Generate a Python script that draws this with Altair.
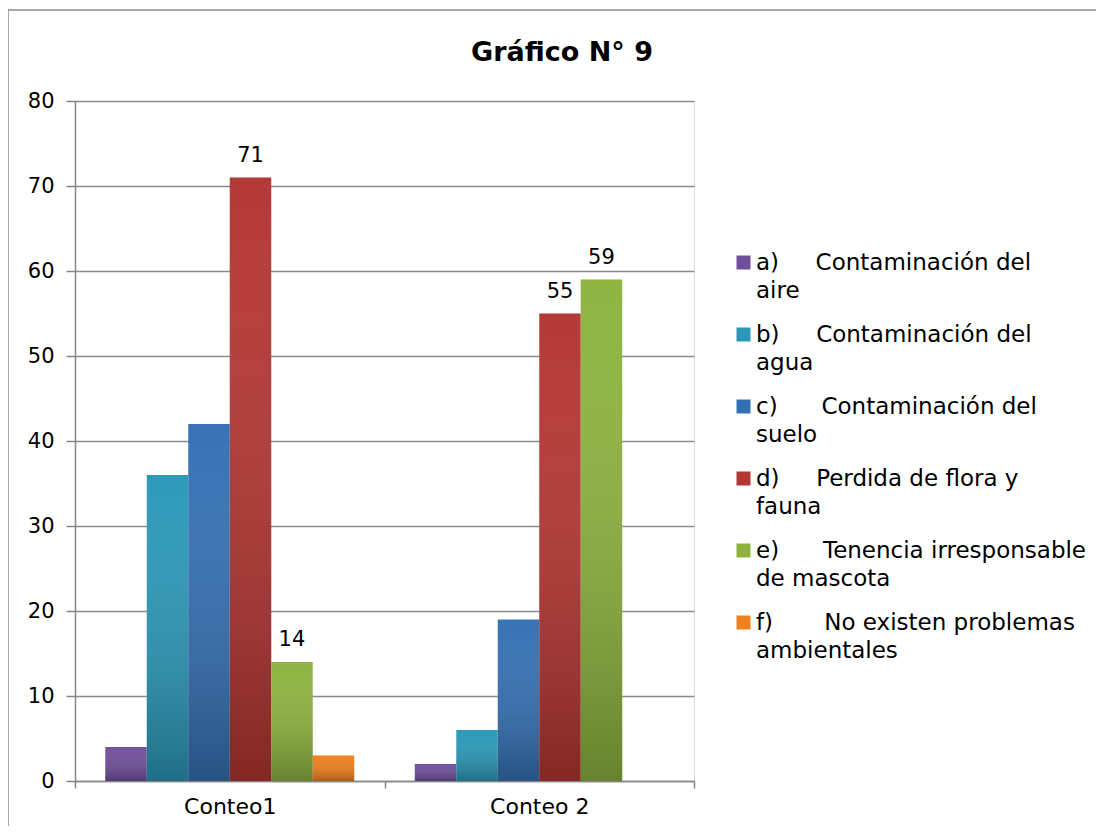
import altair as alt
import pandas as pd

NB = "\u00a0"
conteos = ["Conteo1", "Conteo 2"]
codigos = ["a", "b", "c", "d", "e", "f"]
categorias = [
    "a)" + NB * 5 + "Contaminación del|aire",
    "b)" + NB * 5 + "Contaminación del|agua",
    "c)" + NB * 6 + "Contaminación del|suelo",
    "d)" + NB * 5 + "Perdida de flora y|fauna",
    "e)" + NB * 6 + "Tenencia irresponsable|de mascota",
    "f)" + NB * 7 + "No existen problemas|ambientales",
]
conteo1 = [4, 36, 42, 71, 14, 3]
conteo2 = [2, 6, 19, 55, 59, 0]
colores = ["#6f4e9c", "#2a98b8", "#3470b4", "#b43532", "#8db33e", "#ee801e"]
con_etiqueta = ["d", "e"]
titulo = "Gráfico N° 9"

rows = []
for conteo, vals in zip(conteos, [conteo1, conteo2]):
    for cod, cat, v in zip(codigos, categorias, vals):
        rows.append({"conteo": conteo, "cod": cod, "cat": cat, "valor": v,
                     "etiqueta": cod in con_etiqueta})
df = pd.DataFrame(rows)

FONT = "DejaVu Sans"

x_enc = alt.X("conteo:N", sort=conteos, title=None,
              scale=alt.Scale(paddingInner=0, paddingOuter=0),
              axis=alt.Axis(labelAngle=0, labelFontSize=22, labelFont=FONT,
                            labelColor="#000000", labelPadding=8,
                            tickBand="extent", tickSize=7, tickColor="#868686",
                            tickWidth=1.5, domainColor="#868686", domainWidth=1.5,
                            grid=False))
xo_enc = alt.XOffset("cat:N", sort=categorias,
                     scale=alt.Scale(domain=categorias, paddingInner=0, paddingOuter=0.73))
y_enc = alt.Y("valor:Q", title=None,
              scale=alt.Scale(domain=[0, 80], nice=False),
              axis=alt.Axis(values=list(range(0, 81, 10)), labelFontSize=21,
                            labelFont=FONT, labelColor="#000000", labelPadding=12,
                            tickSize=9, tickColor="#868686", tickWidth=1.5,
                            domainColor="#868686", domainWidth=1.5,
                            grid=True, gridColor="#8c8c8c", gridWidth=1.3))

base = alt.Chart(df)

bars = base.mark_bar(strokeWidth=0).encode(
    x=x_enc, xOffset=xo_enc, y=y_enc,
    color=alt.Color("cat:N", sort=categorias,
                    scale=alt.Scale(domain=categorias, range=colores),
                    legend=alt.Legend(
                        title=None, orient="none", legendX=657, legendY=150,
                        symbolType="square", symbolSize=196, symbolStrokeWidth=0,
                        labelFont=FONT, labelFontSize=23, labelColor="#000000",
                        labelLimit=400, labelOffset=1, rowPadding=20,
                        labelBaseline="middle",
                        labelExpr="split(datum.label, '|')")),
)

grad = alt.Gradient(
    gradient="linear", x1=0, x2=0, y1=0, y2=1,
    stops=[alt.GradientStop(color="rgba(255,255,255,0.02)", offset=0),
           alt.GradientStop(color="rgba(0,0,0,0.27)", offset=1)],
)
shade = base.mark_bar(color=grad, strokeWidth=0).encode(
    x=x_enc, xOffset=xo_enc, y=y_enc,
)

labels = base.transform_filter(alt.datum.etiqueta).mark_text(
    font=FONT, fontSize=21, color="#000000", baseline="middle", dy=-22
).encode(x=x_enc, xOffset=xo_enc, y=y_enc, text=alt.Text("valor:Q"))

deco = alt.Chart(pd.DataFrame({"t": [titulo]}))
frame = deco.mark_rect(
    fill="transparent", stroke="#898989", strokeWidth=1.5
).encode(x=alt.value(-67), x2=alt.value(1100), y=alt.value(-91), y2=alt.value(800))
title_mark = deco.mark_text(
    font=FONT, fontSize=27, fontWeight="bold", color="#000000",
    align="center", baseline="middle"
).encode(x=alt.value(487), y=alt.value(-48), text="t:N")

chart = alt.layer(frame, bars, shade, labels, title_mark).properties(
    width=619, height=680,
    autosize=alt.AutoSizeParams(type="none"),
    padding={"left": 67, "top": 93, "right": 402, "bottom": 45},
).configure_view(stroke=None).configure(
    background="white",
    style={"guide-label": {"lineHeight": 28}},
)

chart.save("out.html", embed_options={"renderer": "svg", "actions": False})
